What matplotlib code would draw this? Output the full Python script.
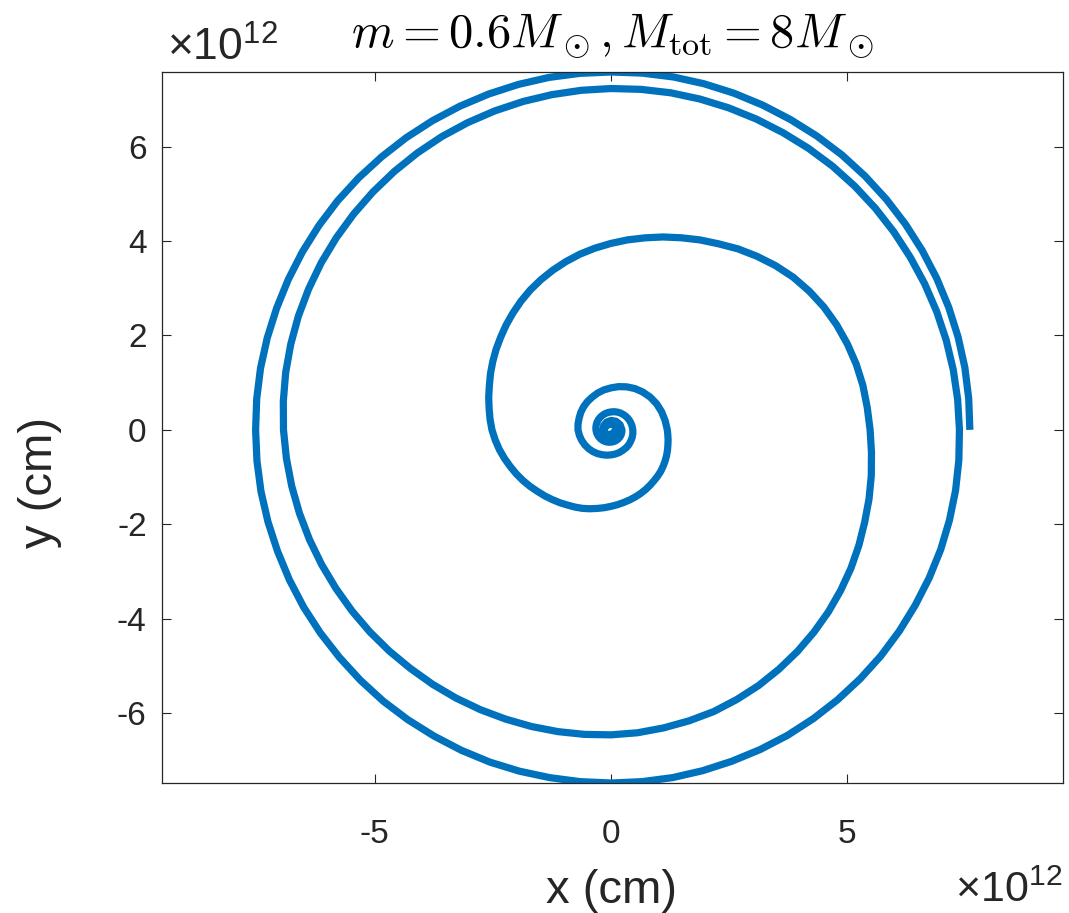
import numpy as np
import matplotlib
matplotlib.use('Agg')
import matplotlib.pyplot as plt

# Orbital separation in units of 1e12 cm.
# Outer three orbits every 5 degrees of phase
phase_outer = np.arange(0, 1080, 5)
radius_outer = [
    7.59, 7.595, 7.60, 7.60, 7.60, 7.60, 7.60, 7.60, 7.60, 7.60, 7.60, 7.595, 7.59, 7.59, 7.59, 7.59, 7.59, 7.585,
    7.58, 7.58, 7.58, 7.575, 7.57, 7.565, 7.56, 7.555, 7.55, 7.55, 7.55, 7.545, 7.54, 7.535, 7.53, 7.53, 7.53, 7.525,
    7.52, 7.52, 7.52, 7.515, 7.51, 7.51, 7.51, 7.505, 7.50, 7.50, 7.50, 7.495, 7.49, 7.49, 7.49, 7.485, 7.48, 7.48,
    7.48, 7.48, 7.48, 7.475, 7.47, 7.47, 7.47, 7.465, 7.46, 7.455, 7.45, 7.44, 7.43, 7.425, 7.42, 7.41, 7.40, 7.385,
    # second orbit
    7.37, 7.36, 7.35, 7.34, 7.33, 7.32, 7.31, 7.305, 7.30, 7.295, 7.29, 7.28, 7.27, 7.265, 7.26, 7.255, 7.25, 7.24,
    7.23, 7.22, 7.21, 7.20, 7.19, 7.18, 7.17, 7.155, 7.14, 7.125, 7.11, 7.095, 7.08, 7.06, 7.04, 7.015, 6.99, 6.96,
    6.93, 6.895, 6.86, 6.825, 6.79, 6.755, 6.72, 6.69, 6.66, 6.63, 6.60, 6.58, 6.56, 6.54, 6.52, 6.505, 6.49, 6.475,
    6.46, 6.44, 6.41, 6.38, 6.35, 6.30, 6.25, 6.19, 6.13, 6.065, 6.00, 5.93, 5.86, 5.785, 5.71, 5.65, 5.59, 5.53,
    # third orbit
    5.48, 5.44, 5.41, 5.37, 5.32, 5.265, 5.20, 5.12, 5.03, 4.92, 4.80, 4.68, 4.55, 4.44, 4.33, 4.23, 4.13, 4.04,
    3.95, 3.865, 3.78, 3.69, 3.60, 3.51, 3.42, 3.325, 3.23, 3.14, 3.05, 2.97, 2.89, 2.815, 2.74, 2.68, 2.62, 2.57,
    2.52, 2.46, 2.40, 2.335, 2.27, 2.21, 2.15, 2.09, 2.03, 1.98, 1.93, 1.885, 1.84, 1.805, 1.77, 1.73, 1.69, 1.655,
    1.62, 1.59, 1.56, 1.535, 1.51, 1.485, 1.46, 1.435, 1.41, 1.39, 1.37, 1.345, 1.32, 1.295, 1.27, 1.245, 1.225, 1.205,
]

# fourth and fifth orbits every 10 degrees
phase_inner = np.arange(1080, 1801, 10)
radius_inner = [
    1.19,
    1.16, 1.135, 1.11, 1.08, 1.045, 1.01, 0.97, 0.93, 0.89,
    0.86, 0.83, 0.80, 0.78, 0.76, 0.74, 0.72, 0.71, 0.70,
    0.68, 0.66, 0.64, 0.62, 0.60, 0.58, 0.56, 0.545, 0.53,
    0.52, 0.51, 0.50, 0.495, 0.49, 0.48, 0.475, 0.468, 0.46,
    0.452, 0.444, 0.436, 0.427, 0.418, 0.409, 0.400, 0.390, 0.380,
    0.373, 0.366, 0.359, 0.352, 0.345, 0.339, 0.332, 0.326, 0.320,
    0.313, 0.306, 0.300, 0.293, 0.286, 0.279, 0.273, 0.266, 0.260,
    0.256, 0.252, 0.248, 0.244, 0.241, 0.238, 0.235, 0.232, 0.230,
]

# last orbits before merger, every 30 degrees
phase_core = np.arange(1830, 2521, 30)
radius_core = [
    0.22, 0.21, 0.20, 0.19, 0.18, 0.17, 0.16, 0.15,
    0.14, 0.13, 0.12, 0.11, 0.10, 0.09, 0.08, 0.07,
    0.06, 0.05, 0.04, 0.035, 0.03, 0.02, 0.015, 0.01,
]

title = r'$m = 0.6M_\odot, M_{\rm tot} = 8M_\odot$'
x_ticks = [-5, 0, 5]
y_ticks = [-6, -4, -2, 0, 2, 4, 6]

plt.rcParams['font.family'] = ['Liberation Sans', 'DejaVu Sans']
plt.rcParams['mathtext.fontset'] = 'custom'
plt.rcParams['mathtext.rm'] = 'Liberation Sans'
plt.rcParams['mathtext.it'] = 'Liberation Sans:italic'
plt.rcParams['axes.unicode_minus'] = False

phi = np.deg2rad(np.concatenate([phase_outer, phase_inner, phase_core]))
r = np.concatenate([radius_outer, radius_inner, radius_core])
x = r * np.cos(phi)
y = r * np.sin(phi)

dark = '#262626'
fig = plt.figure(figsize=(10.69, 9.13), dpi=100)
ax = fig.add_axes([162 / 1069, 130 / 913, 900.5 / 1069, 711 / 913])
ax.plot(x, y, color='#0072BD', lw=5.2, solid_capstyle='butt', solid_joinstyle='round')

ax.set_ylim(y.min(), y.max())
ax.set_xlim(-9.5, 9.55)
ax.set_xticks(x_ticks)
ax.set_yticks(y_ticks)
ax.tick_params(direction='in', length=6.5, width=0.8, color=dark, labelcolor=dark,
               labelsize=24, top=True, right=True)
ax.tick_params(axis='x', pad=26)
ax.tick_params(axis='y', pad=11)
for s in ax.spines.values():
    s.set_color(dark)
    s.set_linewidth(0.9)

fig.text(611 / 1069, 10 / 913, 'x (cm)', fontsize=34, color=dark,
         ha='center', va='baseline')
fig.text(40 / 1069, 430 / 913, 'y (cm)', fontsize=34, color=dark,
         ha='center', va='center', rotation=90)

# exponent labels for both axes
fig.text(167 / 1069, (913 - 61) / 913, r'$\times$10$^{12}$', fontsize=32, color=dark,
         ha='left', va='baseline')
fig.text(1062 / 1069, 2 / 913, r'$\times$10$^{12}$', fontsize=31, color=dark,
         ha='right', va='bottom')

fig.text(612 / 1069, (913 - 47) / 913, title, fontsize=35, color='k',
         ha='center', va='baseline', math_fontfamily='cm')

fig.savefig('out.png', dpi=100)
